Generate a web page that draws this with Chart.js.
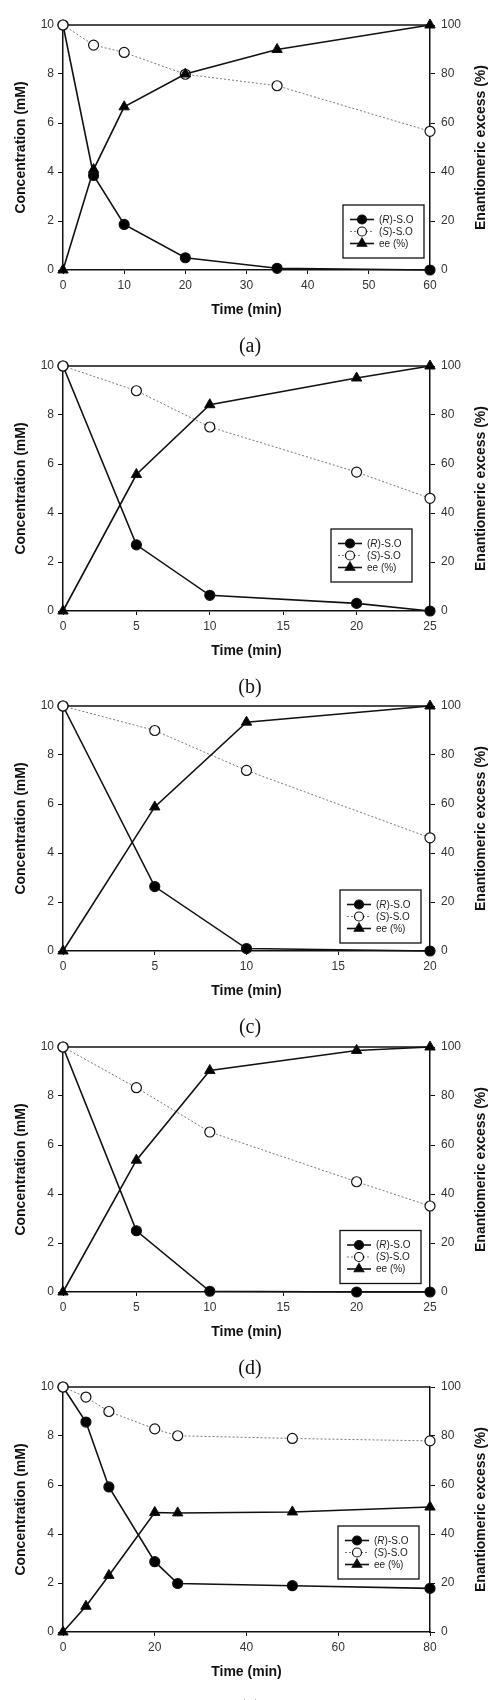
<!DOCTYPE html>
<html><head><meta charset="utf-8">
<script src="https://cdn.jsdelivr.net/npm/chart.js@4.4.0/dist/chart.umd.min.js"></script>
<style>
html,body{margin:0;padding:0;background:#fff;}
#wrap{position:relative;width:494px;height:1700px;overflow:hidden;}
.panel{position:absolute;left:0;width:494px;height:340px;}
.cap{position:absolute;left:0;width:500px;text-align:center;font-family:"Liberation Serif","Times New Roman",serif;font-size:20px;line-height:20px;color:#111;}
</style></head><body>
<div id="wrap"></div>
<script>
// ---- data ----
const captions = ['(a)', '(b)', '(c)', '(d)', '(e)'];
const seriesLabels = ['(R)-S.O', '(S)-S.O', 'ee (%)'];
const xTitle = 'Time (min)';
const yTitle = 'Concentration (mM)';
const y2Title = 'Enantiomeric excess (%)';

const timeA = [0, 5, 10, 20, 35, 60];
const rA    = [10, 3.86, 1.86, 0.50, 0.07, 0];
const sA    = [10, 9.18, 8.88, 7.99, 7.52, 5.66];
const eeA   = [0, 41, 66.6, 80, 90, 100];

const timeB = [0, 5, 10, 20, 25];
const rB    = [10, 2.70, 0.64, 0.31, 0];
const sB    = [10, 8.99, 7.51, 5.67, 4.60];
const eeB   = [0, 55.7, 84.2, 95.1, 100];

const timeC = [0, 5, 10, 20];
const rC    = [10, 2.63, 0.10, 0];
const sC    = [10, 9.00, 7.37, 4.62];
const eeC   = [0, 58.8, 93.4, 100];

const timeD = [0, 5, 10, 20, 25];
const rD    = [10, 2.50, 0.03, 0, 0];
const sD    = [10, 8.34, 6.53, 4.50, 3.51];
const eeD   = [0, 53.8, 90.4, 98.6, 100];

const timeE = [0, 5, 10, 20, 25, 50, 80];
const rE    = [10, 8.57, 5.92, 2.87, 1.98, 1.89, 1.78];
const sE    = [10, 9.59, 9.00, 8.29, 8.01, 7.90, 7.80];
const eeE   = [0, 10.5, 23.1, 48.8, 48.6, 49.0, 51.0];

const xMaxes  = [60, 25, 20, 25, 80];
const xSteps  = [10, 5, 5, 5, 20];
const yTicks  = [0, 2, 4, 6, 8, 10];
const y2Ticks = [0, 20, 40, 60, 80, 100];

// ---- layout / style (not data) ----
const PANEL_H = 340.5;
const legendPos = [[343, 205], [331, 188], [340, 209], [340, 208.5], [338, 164]];
const FONT = '"Liberation Sans", Arial, sans-serif';
const INK = '#111';

const panels = [
  [timeA, rA, sA, eeA],
  [timeB, rB, sB, eeB],
  [timeC, rC, sC, eeC],
  [timeD, rD, sD, eeD],
  [timeE, rE, sE, eeE]
];

function drawMarker(ctx, style, x, y, r, fill) {
  ctx.beginPath();
  if (style === 'triangle') {
    ctx.moveTo(x, y - r);
    ctx.lineTo(x + r * Math.sin(Math.PI / 3), y + r / 2);
    ctx.lineTo(x - r * Math.sin(Math.PI / 3), y + r / 2);
    ctx.closePath();
  } else {
    ctx.arc(x, y, r, 0, Math.PI * 2);
  }
  ctx.fillStyle = fill;
  ctx.fill();
  ctx.lineWidth = 1.2;
  ctx.strokeStyle = INK;
  ctx.stroke();
}

const framePlugin = {
  id: 'frame',
  beforeDatasetsDraw(chart) {
    const { ctx, chartArea: a } = chart;
    ctx.save();
    ctx.strokeStyle = INK;
    ctx.lineWidth = 1.5;
    ctx.beginPath();
    ctx.moveTo(a.left, a.top);
    ctx.lineTo(a.right, a.top);
    ctx.stroke();
    ctx.restore();
  },
  afterDraw(chart, args, opts) {
    const { ctx, chartArea: a } = chart;
    ctx.save();
    // right axis title, reading bottom-to-top
    ctx.translate(opts.rightTitleX, (a.top + a.bottom) / 2);
    ctx.rotate(-Math.PI / 2);
    ctx.font = 'bold 14px ' + FONT;
    ctx.fillStyle = INK;
    ctx.textAlign = 'center';
    ctx.textBaseline = 'middle';
    ctx.fillText(opts.rightTitle, 0, 0);
    ctx.restore();

    // legend box
    const [bx, by] = opts.legend;
    const bw = 81, bh = 53;
    ctx.save();
    ctx.fillStyle = '#fff';
    ctx.fillRect(bx, by, bw, bh);
    ctx.strokeStyle = INK;
    ctx.lineWidth = 1.3;
    ctx.strokeRect(bx, by, bw, bh);
    const rows = [14.5, 26.5, 38.5];
    chart.data.datasets.forEach((ds, i) => {
      const y = by + rows[i];
      ctx.save();
      ctx.strokeStyle = ds.borderColor;
      ctx.lineWidth = ds.borderWidth;
      ctx.setLineDash(ds.borderDash || []);
      ctx.beginPath();
      ctx.moveTo(bx + 7, y);
      ctx.lineTo(bx + 31, y);
      ctx.stroke();
      ctx.restore();
      drawMarker(ctx, ds.pointStyle, bx + 19, y, ds.pointStyle === 'triangle' ? 5.5 : 4.5, ds.pointBackgroundColor);
      // label with italic letter inside parentheses
      let x = bx + 36;
      ctx.fillStyle = '#222';
      ctx.textBaseline = 'middle';
      ctx.textAlign = 'left';
      const m = ds.label.match(/^\((\w)\)(.*)$/);
      const parts = m ? [['(', false], [m[1], true], [')' + m[2], false]] : [[ds.label, false]];
      parts.forEach(([t, it]) => {
        ctx.font = (it ? 'italic ' : '') + '10px ' + FONT;
        ctx.fillText(t, x, y + 0.5);
        x += ctx.measureText(t).width;
      });
    });
    ctx.restore();
  }
};

const wrap = document.getElementById('wrap');

panels.forEach((p, i) => {
  const [t, r, s, ee] = p;
  const top = Math.round(i * PANEL_H);
  const div = document.createElement('div');
  div.className = 'panel';
  div.style.top = top + 'px';
  const cv = document.createElement('canvas');
  cv.width = 494; cv.height = 340;
  cv.style.width = '494px'; cv.style.height = '340px';
  div.appendChild(cv);
  wrap.appendChild(div);

  const tickFont = { family: FONT, size: 12 };
  const titleFont = { family: FONT, size: 14, weight: 'bold' };
  const grid = { drawOnChartArea: false, drawTicks: true, tickLength: 5, color: INK, lineWidth: 1 };
  const border = { display: true, color: INK, width: 1.5 };

  new Chart(cv, {
    type: 'line',
    data: {
      datasets: [
        {
          label: seriesLabels[0],
          data: t.map((x, k) => ({ x: x, y: r[k] })),
          yAxisID: 'y',
          borderColor: INK, borderWidth: 1.6,
          pointStyle: 'circle', pointRadius: 5,
          pointBackgroundColor: '#000', pointBorderColor: INK, pointBorderWidth: 1.2,
          tension: 0, clip: false, order: 3
        },
        {
          label: seriesLabels[1],
          data: t.map((x, k) => ({ x: x, y: s[k] })),
          yAxisID: 'y',
          borderColor: '#777', borderWidth: 1, borderDash: [2, 2],
          pointStyle: 'circle', pointRadius: 5,
          pointBackgroundColor: '#fff', pointBorderColor: INK, pointBorderWidth: 1.2,
          tension: 0, clip: false, order: 2
        },
        {
          label: seriesLabels[2],
          data: t.map((x, k) => ({ x: x, y: ee[k] })),
          yAxisID: 'y2',
          borderColor: INK, borderWidth: 1.6,
          pointStyle: 'triangle', pointRadius: 6,
          pointBackgroundColor: '#000', pointBorderColor: INK, pointBorderWidth: 1,
          tension: 0, clip: false, order: 1
        }
      ]
    },
    options: {
      responsive: false,
      animation: false,
      events: [],
      layout: { padding: { top: 25, left: 0, right: 0, bottom: 0 } },
      plugins: {
        legend: { display: false },
        tooltip: { enabled: false },
        frame: { rightTitle: y2Title, rightTitleX: 481, legend: legendPos[i] }
      },
      scales: {
        x: {
          type: 'linear', position: 'bottom', min: 0, max: xMaxes[i],
          ticks: { stepSize: xSteps[i], padding: 4, font: tickFont, color: '#333' },
          grid: Object.assign({}, grid, { tickLength: 4 }),
          border: border,
          title: { display: true, text: xTitle, font: titleFont, color: INK, padding: { top: 0, bottom: 21.6 } },
          afterFit(sc) { sc.height = 70; }
        },
        y: {
          type: 'linear', position: 'left', min: 0, max: 10,
          afterBuildTicks(sc) { sc.ticks = yTicks.map(v => ({ value: v })); },
          ticks: { padding: 4, font: tickFont, color: '#333' },
          grid: grid,
          border: border,
          title: { display: true, text: yTitle, font: titleFont, color: INK, padding: { top: 12.6, bottom: 0 } },
          afterFit(sc) { sc.width = 63; }
        },
        y2: {
          type: 'linear', position: 'right', min: 0, max: 100,
          afterBuildTicks(sc) { sc.ticks = y2Ticks.map(v => ({ value: v })); },
          ticks: { padding: 6, font: tickFont, color: '#333' },
          grid: grid,
          border: border,
          title: { display: false },
          afterFit(sc) { sc.width = 64; }
        }
      }
    },
    plugins: [framePlugin]
  });
});

captions.forEach((c, i) => {
  const d = document.createElement('div');
  d.className = 'cap';
  d.textContent = c;
  d.style.top = Math.round(345 + i * PANEL_H - 10) + 'px';
  wrap.appendChild(d);
});
</script>
</body></html>
